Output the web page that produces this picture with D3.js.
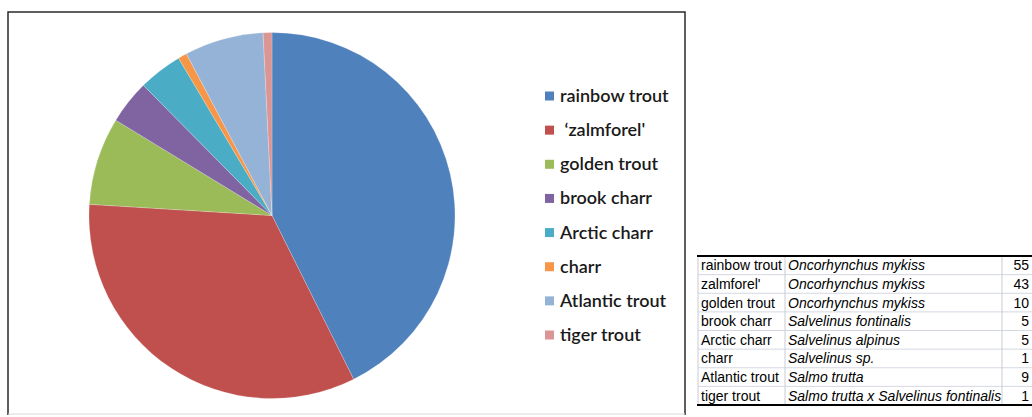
<!DOCTYPE html>
<html>
<head>
<meta charset="utf-8">
<script src="https://cdn.jsdelivr.net/npm/d3@7"></script>
<style>
  html, body { margin: 0; padding: 0; background: #fff; }
  svg { display: block; }
</style>
</head>
<body>
<svg id="chart" width="1032" height="417"></svg>
<script>
// Fish catch composition
const legendLabels = ["rainbow trout", "\u00a0\u2018zalmforel'", "golden trout", "brook charr", "Arctic charr", "charr", "Atlantic trout", "tiger trout"];
const tableNames = ["rainbow trout", "zalmforel'", "golden trout", "brook charr", "Arctic charr", "charr", "Atlantic trout", "tiger trout"];
const speciesNames = ["Oncorhynchus mykiss", "Oncorhynchus mykiss", "Oncorhynchus mykiss", "Salvelinus fontinalis", "Salvelinus alpinus", "Salvelinus sp.", "Salmo trutta", "Salmo trutta x Salvelinus fontinalis"];
const counts = [55, 43, 10, 5, 5, 1, 9, 1];
const sliceColors = ["#4f81bd", "#c0504d", "#9bbb59", "#8064a2", "#4bacc6", "#f79646", "#95b3d7", "#da9694"];

const svg = d3.select("#chart");

// chart frame
const frame = svg.append("g");
frame.append("path")
  .attr("d", "M8,415 L8,12 L685,12 L685,415")
  .attr("fill", "none").attr("stroke", "#2a2a2a").attr("stroke-width", 1.5);
frame.append("line")
  .attr("x1", 8).attr("x2", 685).attr("y1", 414).attr("y2", 414)
  .attr("stroke", "#d8d8d8").attr("stroke-width", 1);

// pie
const cx = 272, cy = 215.5, radius = 183;
const pie = d3.pie().sort(null).value(d => d);
const arc = d3.arc().innerRadius(0).outerRadius(radius);
const color = d3.scaleOrdinal().domain(d3.range(counts.length)).range(sliceColors);

svg.append("g")
  .attr("transform", `translate(${cx},${cy})`)
  .selectAll("path")
  .data(pie(counts))
  .join("path")
  .attr("d", arc)
  .attr("fill", (d, i) => color(i))
  .attr("stroke", "rgba(255,255,255,0.35)")
  .attr("stroke-width", 0.6);

// legend
const legendY = d3.scalePoint().domain(d3.range(legendLabels.length)).range([96, 335]);
const legend = svg.append("g")
  .selectAll("g")
  .data(legendLabels)
  .join("g")
  .attr("transform", (d, i) => `translate(545,${legendY(i)})`);
legend.append("rect")
  .attr("x", 0).attr("y", -4.5).attr("width", 9).attr("height", 9)
  .attr("fill", (d, i) => color(i));
legend.append("text")
  .attr("x", 15).attr("y", 6)
  .attr("font-family", "Lato, 'Open Sans', sans-serif")
  .attr("font-size", 18)
  .attr("font-weight", 600)
  .attr("fill", "#1a1a1a")
  .text(d => d);

// data table
const tableLeft = 698, col1 = 785, col2 = 1002, tableTop = 256, tableBottom = 405;
const rowY = d3.scaleLinear().domain([0, counts.length]).range([tableTop, tableBottom]);
const table = svg.append("g");

// inner horizontal grid lines
table.selectAll("line.h")
  .data(d3.range(1, counts.length))
  .join("line")
  .attr("x1", tableLeft).attr("x2", 1032)
  .attr("y1", d => rowY(d)).attr("y2", d => rowY(d))
  .attr("stroke", "#d4d8e2").attr("stroke-width", 1);
// vertical lines
table.selectAll("line.v")
  .data([tableLeft, col1, col2])
  .join("line")
  .attr("x1", d => d).attr("x2", d => d)
  .attr("y1", tableTop).attr("y2", tableBottom)
  .attr("stroke", "#c8ccd6").attr("stroke-width", 1);
// top and bottom borders
table.selectAll("line.b")
  .data([tableTop, tableBottom])
  .join("line")
  .attr("x1", tableLeft - 1).attr("x2", 1032)
  .attr("y1", d => d).attr("y2", d => d)
  .attr("stroke", "#000").attr("stroke-width", 1.8);

const rows = table.selectAll("g.row")
  .data(d3.range(counts.length))
  .join("g")
  .attr("transform", i => `translate(0,${rowY(i + 0.5)})`);
rows.append("text")
  .attr("x", tableLeft + 3).attr("y", 5)
  .attr("font-family", "'Liberation Sans', Arial, sans-serif")
  .attr("font-size", 14).attr("fill", "#000")
  .text(i => tableNames[i]);
rows.append("text")
  .attr("x", col1 + 3).attr("y", 5)
  .attr("font-family", "'Liberation Sans', Arial, sans-serif")
  .attr("font-size", 14).attr("font-style", "italic").attr("fill", "#000")
  .text(i => speciesNames[i]);
rows.append("text")
  .attr("x", 1029).attr("y", 5)
  .attr("text-anchor", "end")
  .attr("font-family", "'Liberation Sans', Arial, sans-serif")
  .attr("font-size", 14).attr("fill", "#000")
  .text(i => counts[i]);
</script>
</body>
</html>
